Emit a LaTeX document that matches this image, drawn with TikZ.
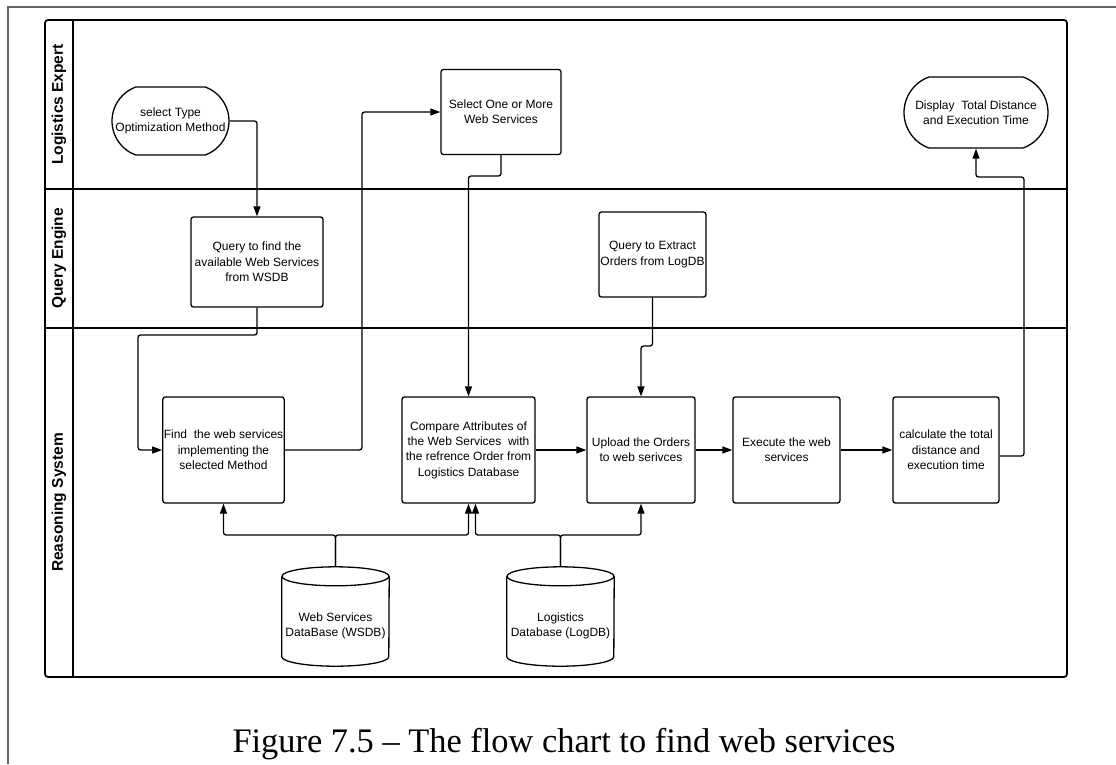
\documentclass[tikz,border=0pt]{standalone}
\usepackage{fontspec}
\setmainfont{Liberation Serif}
\setsansfont{Liberation Sans}
\usepackage{tikz}
\usetikzlibrary{
	arrows.meta,
	positioning,
	shapes.misc
}

\begin{document}
\begin{tikzpicture}[
			x=1pt,y=-1pt,
			every node/.style={font=\sffamily\fontsize{12}{15.3}\selectfont,align=center,inner sep=1pt},
			>={Triangle[length=10pt,width=7pt]},
			box/.style={draw,rounded corners=2.5pt,line width=1.3pt},
			terminal/.style={draw,rounded rectangle,rounded rectangle arc length=140,line width=1.3pt},
			dbtext/.style={minimum width=107pt,minimum height=80pt,inner sep=0pt},
			dbline/.style={line width=1.3pt},
			lane/.style={line width=1.7pt},
			pagefrm/.style={line width=1.4pt,draw=black!60},
			flow/.style={->,line width=1.3pt,rounded corners=2.5pt},
			lanelabel/.style={rotate=90,font=\sffamily\bfseries\fontsize{15.5}{18}\selectfont}
			]
			
			\useasboundingbox (0,0) rectangle (1116,764);
			\draw[pagefrm] (8,764) -- (8,7) -- (1116,7);
			
			% Swimlanes
			\draw[lane,rounded corners=3pt] (45,20) rectangle (1067,677);
			\draw[lane] (73,20) -- (73,677);
			\draw[lane] (45,189) -- (1067,189);
			\draw[lane] (45,328) -- (1067,328);
			\node[lanelabel] (le) at (59,104.5){Logistics Expert};
			\node[lanelabel] (qe) at (59,258.5){Query Engine};
			\node[lanelabel] (rs) at (59,502.5){Reasoning System};
			
			% Logistics Expert lane
			\node[terminal,minimum width=119pt,minimum height=68pt] (seltype) at (170.5,121){select Type\\Optimization Method};
			\node[box,minimum width=120pt,minimum height=85pt] (selws) at (501,112){Select One or More\\Web Services};
			\node[terminal,minimum width=146pt,minimum height=71pt] (disp) at (976,112.5){Display~ Total Distance\\and Execution Time};
			
			% Query Engine lane
			\node[box,minimum width=132pt,minimum height=90pt] (qfind) at (257,262){Query to find the\\available Web Services\\from WSDB};
			\node[box,minimum width=107pt,minimum height=85pt] (qext) at (652.5,254.5){Query to Extract\\Orders from LogDB};
			
			% Reasoning System lane
			\node[box,minimum width=119pt,minimum height=106pt] (find) at (223.5,450){Find~ the web services\\implementing the\\selected Method};
			\node[box,minimum width=133pt,minimum height=106pt] (cmp) at (468.5,450){Compare Attributes of\\the Web Services~ with\\the refrence Order from\\Logistics Database};
			\node[box,minimum width=108pt,minimum height=106pt] (upl) at (641,450){Upload the Orders\\to web serivces};
			\node[box,minimum width=107pt,minimum height=106pt] (exe) at (786.5,450){Execute the web\\services};
			\node[box,minimum width=106pt,minimum height=106pt] (calc) at (946,450){calculate the total\\distance and\\execution time};
			
			% Databases
			\node[dbtext] (wsdb) at (335.5,626){Web Services\\DataBase (WSDB)};
			\node[dbtext] (logdb) at (560.5,626){Logistics\\Database (LogDB)};
			\foreach \db in {wsdb,logdb}
			{
				\draw[dbline] ([yshift=9.5pt]\db.north west) -- ([yshift=9.5pt]\db.south west)
					arc[start angle=180,end angle=360,x radius=53.5pt,y radius=9.5pt]
					-- ([yshift=9.5pt]\db.north east);
				\draw[dbline] ([yshift=9.5pt]\db.north) ellipse[x radius=53.5pt,y radius=9.5pt];
				\coordinate (\db top) at ([yshift=19pt]\db.north);
			}
			
			% Connections
			\draw[flow] (seltype.east) -| (qfind.north);
			\draw[flow] (qfind.south) |- (138,335) |- (find.west);
			\draw[flow] (find.east) -| (362,112) -- (selws.west);
			\draw[flow] (selws.south) |- (468.5,176) -- (cmp.north);
			\draw[flow] (qext.south) |- (641,346) -- (upl.north);
			\foreach \a/\b in {cmp/upl,upl/exe,exe/calc}
			{
				\draw[flow] (\a.east) -- (\b.west);
			}
			\draw[flow] ([yshift=-6pt]calc.east) -| (1024,177) -| (disp.south);
			\draw[flow] (wsdbtop) |- (223.5,535) -- (find.south);
			\draw[flow] (wsdbtop) |- (468.5,535) -- (cmp.south);
			\draw[flow] (logdbtop) |- (475.5,535) -- ([xshift=7pt]cmp.south);
			\draw[flow] (logdbtop) |- (641,535) -- (upl.south);
			
			\node[font=\rmfamily\fontsize{34.4}{40}\selectfont,anchor=base] (cap) at (564,752){Figure 7.5 \textendash{} The flow chart to find web services};
			
		\end{tikzpicture}
\end{document}
